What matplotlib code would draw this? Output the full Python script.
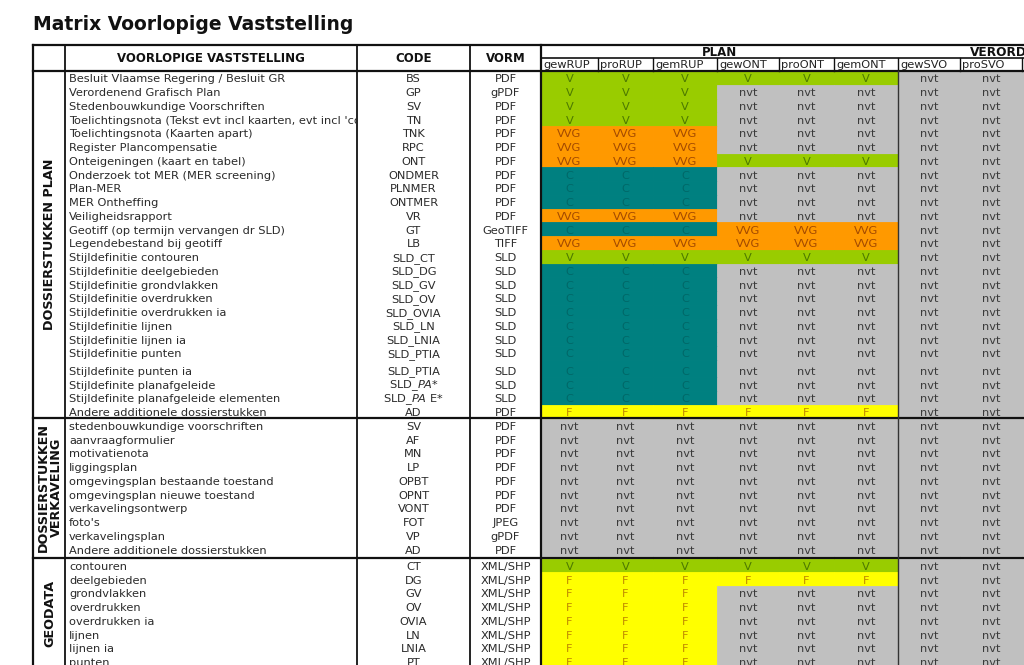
import matplotlib
matplotlib.use('Agg')
import matplotlib.pyplot as plt
from matplotlib.patches import Rectangle
from matplotlib.transforms import Bbox

# ---------------- data ----------------
title = "Matrix Voorlopige Vaststelling"
sections = ["DOSSIERSTUKKEN PLAN", "DOSSIERSTUKKEN\nVERKAVELING", "GEODATA"]
section_sizes = [25, 10, 8]
header_left = ["VOORLOPIGE VASTSTELLING", "CODE", "VORM"]
group_headers = ["PLAN", "VERORDENING"]
group_spans = [6, 3]
sub_headers = ["gewRUP", "proRUP", "gemRUP", "gewONT", "proONT", "gemONT",
               "gewSVO", "proSVO", "gemSVO"]

descriptions = [
    "Besluit Vlaamse Regering / Besluit GR",
    "Verordenend Grafisch Plan",
    "Stedenbouwkundige Voorschriften",
    "Toelichtingsnota (Tekst evt incl kaarten, evt incl 'compensatie')",
    "Toelichtingsnota (Kaarten apart)",
    "Register Plancompensatie",
    "Onteigeningen (kaart en tabel)",
    "Onderzoek tot MER (MER screening)",
    "Plan-MER",
    "MER Ontheffing",
    "Veiligheidsrapport",
    "Geotiff (op termijn vervangen dr SLD)",
    "Legendebestand bij geotiff",
    "Stijldefinitie contouren",
    "Stijldefinitie deelgebieden",
    "Stijldefinitie grondvlakken",
    "Stijldefinitie overdrukken",
    "Stijldefinitie overdrukken ia",
    "Stijldefinitie lijnen",
    "Stijldefinitie lijnen ia",
    "Stijldefinitie punten",
    "Stijldefinite punten ia",
    "Stijldefinite planafgeleide",
    "Stijldefinite planafgeleide elementen",
    "Andere additionele dossierstukken",
    "stedenbouwkundige voorschriften",
    "aanvraagformulier",
    "motivatienota",
    "liggingsplan",
    "omgevingsplan bestaande toestand",
    "omgevingsplan nieuwe toestand",
    "verkavelingsontwerp",
    "foto's",
    "verkavelingsplan",
    "Andere additionele dossierstukken",
    "contouren",
    "deelgebieden",
    "grondvlakken",
    "overdrukken",
    "overdrukken ia",
    "lijnen",
    "lijnen ia",
    "punten",
]

codes = [
    "BS", "GP", "SV", "TN", "TNK", "RPC", "ONT", "ONDMER", "PLNMER", "ONTMER",
    "VR", "GT", "LB", "SLD_CT", "SLD_DG", "SLD_GV", "SLD_OV", "SLD_OVIA",
    "SLD_LN", "SLD_LNIA", "SLD_PTIA", "SLD_PTIA", "SLD_$\\mathit{PA}$*",
    "SLD_$\\mathit{PA}$ E*", "AD",
    "SV", "AF", "MN", "LP", "OPBT", "OPNT", "VONT", "FOT", "VP", "AD",
    "CT", "DG", "GV", "OV", "OVIA", "LN", "LNIA", "PT",
]

forms = [
    "PDF", "gPDF", "PDF", "PDF", "PDF", "PDF", "PDF", "PDF", "PDF", "PDF",
    "PDF", "GeoTIFF", "TIFF", "SLD", "SLD", "SLD", "SLD", "SLD", "SLD", "SLD",
    "SLD", "SLD", "SLD", "SLD", "PDF",
    "PDF", "PDF", "PDF", "PDF", "PDF", "PDF", "PDF", "JPEG", "gPDF", "PDF",
    "XML/SHP", "XML/SHP", "XML/SHP", "XML/SHP", "XML/SHP", "XML/SHP",
    "XML/SHP", "XML/SHP",
]

status_rows = [
    "V V V V V V nvt nvt nvt",
    "V V V nvt nvt nvt nvt nvt nvt",
    "V V V nvt nvt nvt nvt nvt nvt",
    "V V V nvt nvt nvt nvt nvt nvt",
    "VVG VVG VVG nvt nvt nvt nvt nvt nvt",
    "VVG VVG VVG nvt nvt nvt nvt nvt nvt",
    "VVG VVG VVG V V V nvt nvt nvt",
    "C C C nvt nvt nvt nvt nvt nvt",
    "C C C nvt nvt nvt nvt nvt nvt",
    "C C C nvt nvt nvt nvt nvt nvt",
    "VVG VVG VVG nvt nvt nvt nvt nvt nvt",
    "C C C VVG VVG VVG nvt nvt nvt",
    "VVG VVG VVG VVG VVG VVG nvt nvt nvt",
    "V V V V V V nvt nvt nvt",
    "C C C nvt nvt nvt nvt nvt nvt",
    "C C C nvt nvt nvt nvt nvt nvt",
    "C C C nvt nvt nvt nvt nvt nvt",
    "C C C nvt nvt nvt nvt nvt nvt",
    "C C C nvt nvt nvt nvt nvt nvt",
    "C C C nvt nvt nvt nvt nvt nvt",
    "C C C nvt nvt nvt nvt nvt nvt",
    "C C C nvt nvt nvt nvt nvt nvt",
    "C C C nvt nvt nvt nvt nvt nvt",
    "C C C nvt nvt nvt nvt nvt nvt",
    "F F F F F F nvt nvt nvt",
    "nvt nvt nvt nvt nvt nvt nvt nvt nvt",
    "nvt nvt nvt nvt nvt nvt nvt nvt nvt",
    "nvt nvt nvt nvt nvt nvt nvt nvt nvt",
    "nvt nvt nvt nvt nvt nvt nvt nvt nvt",
    "nvt nvt nvt nvt nvt nvt nvt nvt nvt",
    "nvt nvt nvt nvt nvt nvt nvt nvt nvt",
    "nvt nvt nvt nvt nvt nvt nvt nvt nvt",
    "nvt nvt nvt nvt nvt nvt nvt nvt nvt",
    "nvt nvt nvt nvt nvt nvt nvt nvt nvt",
    "nvt nvt nvt nvt nvt nvt nvt nvt nvt",
    "V V V V V V nvt nvt nvt",
    "F F F F F F nvt nvt nvt",
    "F F F nvt nvt nvt nvt nvt nvt",
    "F F F nvt nvt nvt nvt nvt nvt",
    "F F F nvt nvt nvt nvt nvt nvt",
    "F F F nvt nvt nvt nvt nvt nvt",
    "F F F nvt nvt nvt nvt nvt nvt",
    "F F F nvt nvt nvt nvt nvt nvt",
]
status = [r.split() for r in status_rows]

# ---------------- styles ----------------
fill_colors = {"V": "#99cc00", "VVG": "#ff9900", "C": "#008080",
               "F": "#ffff00", "nvt": "#c0c0c0"}
text_colors = {"V": "#4d7a00", "VVG": "#a34a00", "C": "#006868",
               "F": "#c08a00", "nvt": "#3a3a3a"}

W, H = 1024, 665
left_edges = [33, 65, 357, 470, 541]
data_edges = [541, 598, 653, 717, 779, 834, 898, 960, 1022, 1084]
y_top, y_plan, y_head = 45, 58, 71
base_h = 13.75
tall_rows = {21: 17.5}
section_gap = [0, 0, 2.5]
text_drop = 1.6
fs = 8.2
txt_col = "#2a2a2a"

fig = plt.figure(figsize=(W / 100, H / 100), dpi=100)
ax = fig.add_axes([0, 0, 1, 1])
ax.set_xlim(0, W)
ax.set_ylim(H, 0)
ax.axis("off")

ax.text(33, 25, title, fontsize=13.5, fontweight="bold", va="center",
        ha="left", color="#111111")

# row geometry
row_top, row_h = [], []
y = y_head
r = 0
sec_bounds = []
for s, n in enumerate(section_sizes):
    y += section_gap[s]
    start = y
    for _ in range(n):
        h = tall_rows.get(r, base_h)
        row_top.append(y)
        row_h.append(h)
        y += h
        r += 1
    sec_bounds.append((start, y))


def display_bbox(x0, y0, x1, y1):
    pts = ax.transData.transform([[x0, y0], [x1, y1]])
    return Bbox.from_extents(min(pts[:, 0]), min(pts[:, 1]),
                             max(pts[:, 0]), max(pts[:, 1]))


# data cells
for i, row in enumerate(status):
    y0, h = row_top[i], row_h[i]
    yc = y0 + h - base_h / 2 + text_drop
    for j, val in enumerate(row):
        x0, x1 = data_edges[j], data_edges[j + 1]
        ax.add_patch(Rectangle((x0, y0), x1 - x0, h,
                               facecolor=fill_colors[val],
                               edgecolor=fill_colors[val], lw=0.6))
        if (x0 + x1) / 2 < W - 10:
            ax.text((x0 + x1) / 2, yc, val, ha="center", va="center",
                    fontsize=fs, color=text_colors[val])
    # left columns
    t = ax.text(left_edges[1] + 4, yc, descriptions[i], ha="left",
                va="center", fontsize=fs, color=txt_col)
    t.set_clip_path(None)
    t.set_clip_box(display_bbox(left_edges[1], y0 - 4, left_edges[2] - 1, y0 + h + 4))
    t.set_clip_on(True)
    ax.text((left_edges[2] + left_edges[3]) / 2, yc, codes[i], ha="center",
            va="center", fontsize=fs, color=txt_col)
    ax.text((left_edges[3] + left_edges[4]) / 2, yc, forms[i], ha="center",
            va="center", fontsize=fs, color=txt_col)

# section labels
for s, (a, b) in enumerate(sec_bounds):
    ax.text((left_edges[0] + left_edges[1]) / 2 + 1, (a + b) / 2, sections[s],
            rotation=90, ha="center", va="center", fontsize=9.2,
            fontweight="bold", color="#111111", multialignment="center",
            linespacing=1.0)

# header texts
for k, lab in enumerate(header_left):
    ax.text((left_edges[k + 1] + left_edges[k + 2]) / 2, (y_top + y_head) / 2 + 1,
            lab, ha="center", va="center", fontsize=8.5, fontweight="bold",
            color="#111111")
ax.text((data_edges[0] + data_edges[group_spans[0]]) / 2, (y_top + y_plan) / 2 + 0.5,
        group_headers[0], ha="center", va="center", fontsize=8.5,
        fontweight="bold", color="#111111")
ax.text(970, (y_top + y_plan) / 2 + 0.5, group_headers[1], ha="left", va="center",
        fontsize=8.7, fontweight="bold", color="#111111")
for j, lab in enumerate(sub_headers):
    if data_edges[j] + 20 < W:
        ax.text(data_edges[j] + 2, (y_plan + y_head) / 2 + 0.5, lab, ha="left",
                va="center", fontsize=8.2, color="#222222")

# lines
bottom = H + 10
lc = "#111111"
ax.plot([left_edges[0], W], [y_top, y_top], color=lc, lw=1.6)
ax.plot([data_edges[0], W], [y_plan, y_plan], color=lc, lw=1.2)
ax.plot([left_edges[0], W], [y_head, y_head], color=lc, lw=1.6)
for a, b in sec_bounds[1:]:
    ax.plot([left_edges[0], W], [a - 0.5, a - 0.5], color=lc, lw=1.6)
for k, x in enumerate(left_edges):
    ax.plot([x, x], [y_top, bottom], color=lc, lw=1.6 if k in (0, 4) else 1.3)
for x in data_edges[1:]:
    ax.plot([x, x], [y_plan, y_head], color=lc, lw=1.0)
ax.plot([data_edges[6], data_edges[6]], [y_head, bottom], color="#333333", lw=1.0)

fig.savefig("out.png", dpi=100, facecolor="white")
